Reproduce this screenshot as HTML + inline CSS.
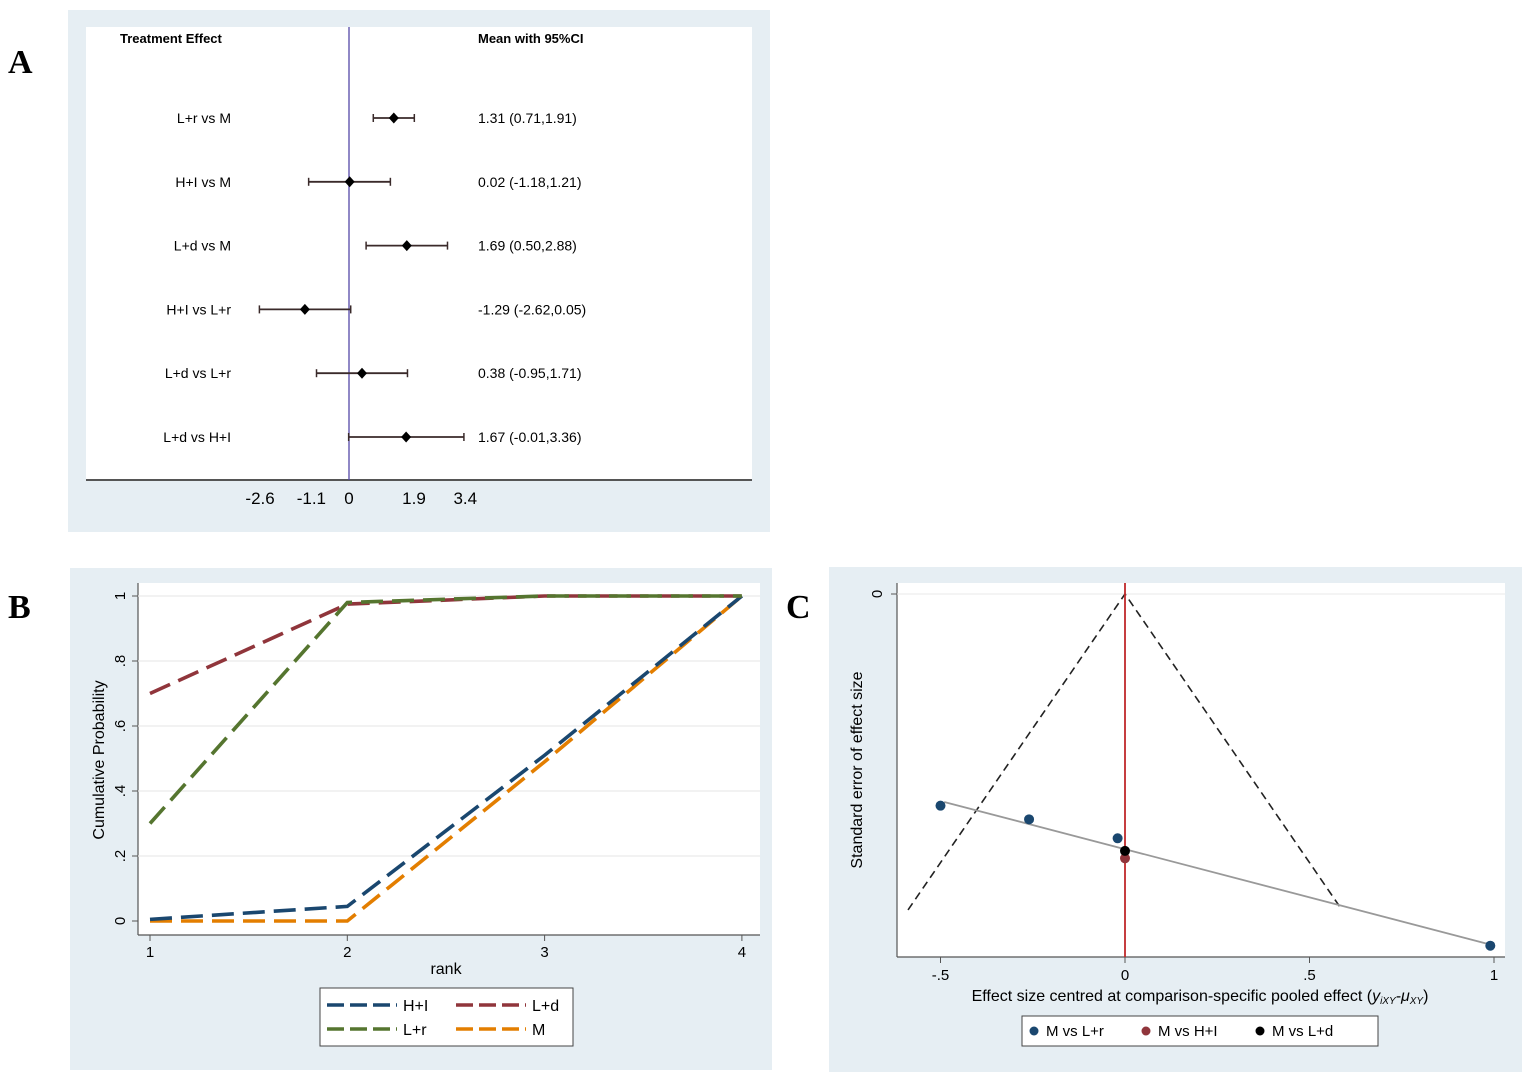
<!DOCTYPE html>
<html><head><meta charset="utf-8"><style>
html,body{margin:0;padding:0;background:#fff;}
svg{display:block;font-family:"Liberation Sans",Arial,sans-serif;}
</style></head><body>
<svg id="fig" width="1535" height="1084" viewBox="0 0 1535 1084">
<text x="8" y="73" font-family="Liberation Serif" font-weight="bold" font-size="34">A</text>
<text x="8" y="618" font-family="Liberation Serif" font-weight="bold" font-size="34">B</text>
<text x="786" y="618" font-family="Liberation Serif" font-weight="bold" font-size="34">C</text>

<g id="pa">
<rect x="68" y="10" width="702" height="522" fill="#e6eef3"/>
<rect x="86" y="27" width="666" height="453" fill="#fff"/>
<text x="120" y="43" font-size="13" font-weight="bold">Treatment Effect</text>
<text x="478" y="43" font-size="13" font-weight="bold">Mean with 95%CI</text>
<line x1="86" y1="480" x2="752" y2="480" stroke="#555" stroke-width="2"/>
</g>

<g id="pb">
<rect x="70" y="568" width="702" height="502" fill="#e6eef3"/>
<rect x="138" y="583" width="622" height="352" fill="#fff"/>
<line x1="138" y1="583" x2="138" y2="935" stroke="#555" stroke-width="1.2"/>
<line x1="138" y1="935" x2="760" y2="935" stroke="#555" stroke-width="1.2"/>
<text x="446" y="974" font-size="16" text-anchor="middle">rank</text>
<text transform="translate(104,760) rotate(-90)" font-size="16" text-anchor="middle">Cumulative Probability</text>
<rect x="320" y="988" width="253" height="58" fill="#fff" stroke="#444"/>
</g>

<g id="pc">
<rect x="829" y="567" width="693" height="505" fill="#e6eef3"/>
<rect x="897" y="583" width="608" height="374" fill="#fff"/>
<line x1="897" y1="583" x2="897" y2="957" stroke="#555" stroke-width="1.2"/>
<line x1="897" y1="957" x2="1505" y2="957" stroke="#555" stroke-width="1.2"/>
<text x="1200" y="1001" font-size="16" text-anchor="middle">Effect size centred at comparison-specific pooled effect (<tspan font-style="italic">y<tspan font-size="10" dy="3">iXY</tspan><tspan dy="-3">-μ</tspan><tspan font-size="10" dy="3">XY</tspan></tspan><tspan dy="-3">)</tspan></text>
<text transform="translate(862,770) rotate(-90)" font-size="16" text-anchor="middle">Standard error of effect size</text>
<rect x="1022" y="1016" width="356" height="30" fill="#fff" stroke="#444"/>
</g>
</svg>
<script>
// ---- Panel A data
const fpLabels = ["L+r vs M","H+I vs M","L+d vs M","H+I vs L+r","L+d vs L+r","L+d vs H+I"];
const fpMeans = [1.31,0.02,1.69,-1.29,0.38,1.67];
const fpLow = [0.71,-1.18,0.50,-2.62,-0.95,-0.01];
const fpHigh = [1.91,1.21,2.88,0.05,1.71,3.36];
const fpText = ["1.31 (0.71,1.91)","0.02 (-1.18,1.21)","1.69 (0.50,2.88)","-1.29 (-2.62,0.05)","0.38 (-0.95,1.71)","1.67 (-0.01,3.36)"];
const fpTicks = [-2.6,-1.1,0,1.9,3.4];
// ---- Panel B data
const ranks = [1,2,3,4];
const rankTicksY = [0,0.2,0.4,0.6,0.8,1];
const rankTickLabels = ["0",".2",".4",".6",".8","1"];
const seriesNames = ["H+I","L+d","L+r","M"];
const hiVals = [0.005,0.045,0.51,1];
const ldVals = [0.70,0.975,1,1];
const lrVals = [0.30,0.98,1,1];
const mVals = [0,0,0.49,1];
// ---- Panel C data
const fcTicksX = [-0.5,0,0.5,1];
const fcTickLabels = ["-.5","0",".5","1"];
const fcX = [-0.5,-0.26,-0.02,0,0,0.99];
const fcSE = [0.201,0.214,0.232,0.251,0.244,0.334];
const fcGroup = [0,0,0,1,2,0];
const fcGroupNames = ["M vs L+r","M vs H+I","M vs L+d"];
const regX = [-0.49,0.98];
const regSE = [0.1975,0.332];
const funnelMaxSE = 0.30;

const NS="http://www.w3.org/2000/svg";
function mk(parent,tag,attrs,text){const e=document.createElementNS(NS,tag);for(const k in attrs)e.setAttribute(k,attrs[k]);if(text!==undefined)e.textContent=text;parent.appendChild(e);return e;}

// Panel A
const pa=document.getElementById('pa');
const ax=v=>349+v*34.2;
const rowY=i=>118+i*63.8;
let e=mk(pa,'line',{x1:ax(0),y1:27,x2:ax(0),y2:480,stroke:'#5548a8','stroke-width':1.3});


fpTicks.forEach(t=>{
  e=mk(pa,'text',{x:ax(t),y:504,'font-size':17,'text-anchor':'middle'},String(t));
  
  
});
fpLabels.forEach((l,i)=>{
  const y=rowY(i);
  e=mk(pa,'text',{x:231,y:y+5,'font-size':14,'text-anchor':'end'},l);
  
  
  e=mk(pa,'line',{x1:ax(fpLow[i]),y1:y,x2:ax(fpHigh[i]),y2:y,stroke:'#3a2a2a','stroke-width':1.8});
  
  
  [fpLow[i],fpHigh[i]].forEach(v=>{mk(pa,'line',{x1:ax(v),y1:y-4,x2:ax(v),y2:y+4,stroke:'#3a2a2a','stroke-width':1.5});});
  const cx=ax(fpMeans[i]);
  e=mk(pa,'polygon',{points:`${cx},${y-5.5} ${cx+5},${y} ${cx},${y+5.5} ${cx-5},${y}`,fill:'#000'});
  
  
  e=mk(pa,'text',{x:478,y:y+5,'font-size':14},fpText[i]);
  
  
});

// Panel B
const pb=document.getElementById('pb');
const bx=r=>150+(r-1)*197.3;
const by=v=>921-v*325;
rankTicksY.forEach((t,i)=>{
  if(t>0){e=mk(pb,'line',{x1:138,y1:by(t),x2:760,y2:by(t),stroke:'#eaeaea','stroke-width':1.2});
  
  }
  mk(pb,'line',{x1:132,y1:by(t),x2:138,y2:by(t),stroke:'#555'});
  e=mk(pb,'text',{transform:`translate(125,${by(t)}) rotate(-90)`,'font-size':15,'text-anchor':'middle'},rankTickLabels[i]);
  
  
});
ranks.forEach(r=>{
  mk(pb,'line',{x1:bx(r),y1:935,x2:bx(r),y2:941,stroke:'#555'});
  e=mk(pb,'text',{x:bx(r),y:957,'font-size':15,'text-anchor':'middle'},String(r));
  
  
});
const colors=["#1a476f","#90353b","#55752f","#e37e00"];
const allVals=[hiVals,ldVals,lrVals,mVals];
[3,0,1,2].forEach(k=>{
  const pts=ranks.map((r,i)=>bx(r)+','+by(allVals[k][i])).join(' ');
  e=mk(pb,'polyline',{points:pts,fill:'none',stroke:colors[k],'stroke-width':3.6,'stroke-dasharray':'22,9'});
  
  
});
const legPos=[[327,1005],[456,1005],[327,1029],[456,1029]];
[0,1,2,3].forEach((k,i)=>{
  const [lx,ly]=legPos[i];
  mk(pb,'line',{x1:lx,y1:ly,x2:lx+70,y2:ly,stroke:colors[k],'stroke-width':3.6,'stroke-dasharray':'17,6'});
  e=mk(pb,'text',{x:lx+76,y:ly+6,'font-size':16},seriesNames[k]);
  
  
});

// Panel C
const pc=document.getElementById('pc');
const cx=v=>1125+v*369;
const cy=s=>594+s*1053;
e=mk(pc,'line',{x1:897,y1:cy(0),x2:1505,y2:cy(0),stroke:'#eaeaea'});
mk(pc,'line',{x1:891,y1:cy(0),x2:897,y2:cy(0),stroke:'#555'});
e=mk(pc,'text',{transform:`translate(882,${cy(0)}) rotate(-90)`,'font-size':15,'text-anchor':'middle'},"0");


fcTicksX.forEach((t,i)=>{
  mk(pc,'line',{x1:cx(t),y1:957,x2:cx(t),y2:963,stroke:'#555'});
  e=mk(pc,'text',{x:cx(t),y:980,'font-size':15,'text-anchor':'middle'},fcTickLabels[i]);
  
  
});
e=mk(pc,'polyline',{points:`${cx(-1.96*funnelMaxSE)},${cy(funnelMaxSE)} ${cx(0)},${cy(0)} ${cx(1.96*funnelMaxSE)},${cy(funnelMaxSE)}`,fill:'none',stroke:'#222','stroke-width':1.6,'stroke-dasharray':'8,5'});


e=mk(pc,'line',{x1:cx(0),y1:583,x2:cx(0),y2:957,stroke:'#c0282a','stroke-width':1.8});


e=mk(pc,'line',{x1:cx(regX[0]),y1:cy(regSE[0]),x2:cx(regX[1]),y2:cy(regSE[1]),stroke:'#999','stroke-width':1.8});


const gcol=["#1a476f","#90353b","#000"];
fcX.forEach((x,i)=>{
  e=mk(pc,'circle',{cx:cx(x),cy:cy(fcSE[i]),r:5,fill:gcol[fcGroup[i]]});
  
  
});
const lgx=[1034,1146,1260];
fcGroupNames.forEach((n,i)=>{
  mk(pc,'circle',{cx:lgx[i],cy:1031,r:4.5,fill:gcol[i]});
  e=mk(pc,'text',{x:lgx[i]+12,y:1036,'font-size':15},n);
  
  
});
</script>
</body></html>
